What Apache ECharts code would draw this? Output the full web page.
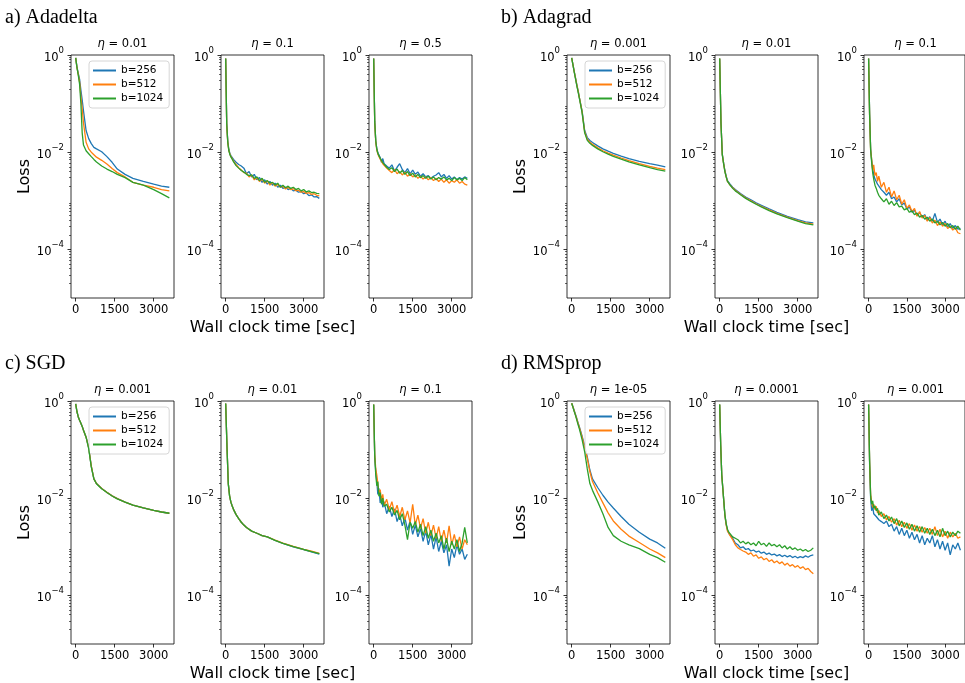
<!DOCTYPE html>
<html><head><meta charset="utf-8">
<script src="https://cdn.jsdelivr.net/npm/echarts@6/dist/echarts.min.js"></script>
<style>html,body{margin:0;padding:0;background:#fff}#c{width:965px;height:683px}</style>
</head><body><div id="c"></div>
<script>
// ---- time axes (seconds) ----
const tS = [0,50,100,150,200,250,300,400,500,600,700,800,1000,1200,1400,1600,1900,2200,2600,3000,3300,3600];
const tN = [0,40,80,120,160,200,250,300,350,400,500,600,700,800,900,1000,1100,1200,1300,1400,1500,1600,1700,1800,1900,2000,2100,2200,2300,2400,2500,2600,2700,2800,2900,3000,3100,3200,3300,3400,3500,3600];
const xTicks = [0,1500,3000];
const yMajorExp = [0,-2,-4];
const batchNames = ['b=256','b=512','b=1024'];
const panelTitles = ['a) Adadelta','b) Adagrad','c) SGD','d) RMSprop'];
const etaLabels = [['0.01','0.1','0.5'],['0.001','0.01','0.1'],['0.001','0.01','0.1'],['1e-05','0.0001','0.001']];

// ---- a) Adadelta ----
const adadelta_lr001_b256 = [0.87,0.56,0.42,0.32,0.19,0.12,0.071,0.028,0.019,0.015,0.0126,0.0117,0.0102,0.0081,0.0062,0.0045,0.0035,0.0029,0.0025,0.0022,0.002,0.0019];
const adadelta_lr001_b512 = [0.87,0.55,0.40,0.28,0.14,0.079,0.04,0.016,0.0117,0.01,0.0089,0.0079,0.0068,0.0057,0.0046,0.0038,0.0031,0.0024,0.0021,0.0019,0.0017,0.0016];
const adadelta_lr001_b1024 = [0.87,0.55,0.38,0.25,0.1,0.025,0.014,0.0107,0.0093,0.0081,0.0071,0.0063,0.0052,0.0045,0.004,0.0035,0.003,0.0024,0.0021,0.0017,0.0014,0.00115];
const adadelta_lr01_b256 = [0.85,0.04,0.017,0.0115,0.0095,0.0085,0.0078,0.0071,0.0066,0.0062,0.0056,0.0052,0.0047,0.0036,0.0040,0.0031,0.0035,0.0027,0.0030,0.0024,0.0027,0.0022,0.0025,0.0021,0.0023,0.0019,0.0021,0.0018,0.0019,0.0017,0.0018,0.0016,0.00165,0.0015,0.00155,0.0014,0.00145,0.00128,0.00133,0.0012,0.00122,0.00112];
const adadelta_lr01_b512 = [0.85,0.035,0.016,0.011,0.0092,0.0082,0.0074,0.0066,0.006,0.0055,0.0048,0.0043,0.0038,0.0037,0.0031,0.0034,0.0027,0.003,0.0025,0.0028,0.0023,0.0026,0.0021,0.0024,0.002,0.0022,0.0019,0.002,0.00175,0.0019,0.0017,0.00178,0.0016,0.00165,0.0015,0.00155,0.00142,0.00148,0.00135,0.0014,0.0013,0.00126];
const adadelta_lr01_b1024 = [0.85,0.038,0.016,0.0108,0.009,0.008,0.0072,0.0064,0.0059,0.0053,0.0047,0.0042,0.0039,0.0035,0.0033,0.0034,0.0029,0.0031,0.0026,0.0029,0.0024,0.0026,0.0023,0.0024,0.0021,0.0023,0.0019,0.0021,0.00185,0.002,0.0018,0.0019,0.0017,0.0018,0.0016,0.0017,0.00152,0.0016,0.00148,0.0015,0.00142,0.0014];
const adadelta_lr05_b256 = [0.85,0.045,0.017,0.012,0.0098,0.0088,0.0078,0.0062,0.0074,0.0058,0.0052,0.0047,0.0055,0.0041,0.0049,0.0058,0.0044,0.0038,0.0046,0.0036,0.0043,0.0035,0.0039,0.0032,0.0036,0.0031,0.0033,0.0029,0.0032,0.0034,0.0038,0.0031,0.0035,0.0029,0.0033,0.0028,0.0031,0.0027,0.003,0.0028,0.0031,0.0029];
const adadelta_lr05_b512 = [0.85,0.04,0.016,0.011,0.0092,0.0082,0.0072,0.0066,0.0058,0.0054,0.0047,0.0042,0.0038,0.0044,0.0036,0.004,0.0034,0.0039,0.0032,0.0036,0.0031,0.0034,0.0029,0.0032,0.0028,0.0031,0.0027,0.003,0.0026,0.0029,0.0025,0.0028,0.0024,0.0027,0.0023,0.0026,0.0024,0.0027,0.0023,0.0025,0.0022,0.0021];
const adadelta_lr05_b1024 = [0.85,0.042,0.017,0.0115,0.0095,0.0085,0.0075,0.0069,0.0061,0.0056,0.0049,0.0044,0.0048,0.004,0.0045,0.0037,0.0042,0.0035,0.004,0.0033,0.0037,0.0031,0.0035,0.003,0.0033,0.0029,0.0032,0.0028,0.0031,0.0027,0.003,0.0028,0.0031,0.0027,0.0029,0.0026,0.003,0.0027,0.0029,0.0026,0.003,0.0027];

// ---- b) Adagrad ----
const adagrad_lr0001_b256 = [0.87,0.63,0.45,0.33,0.24,0.18,0.13,0.071,0.028,0.02,0.0174,0.0158,0.0135,0.0117,0.0105,0.0095,0.0083,0.0074,0.0065,0.0058,0.0054,0.005];
const adagrad_lr0001_b512 = [0.87,0.63,0.45,0.33,0.24,0.18,0.13,0.068,0.026,0.0185,0.016,0.0145,0.0123,0.0107,0.0096,0.0087,0.0076,0.0067,0.0058,0.0051,0.0047,0.0044];
const adagrad_lr0001_b1024 = [0.87,0.62,0.44,0.32,0.23,0.17,0.125,0.065,0.025,0.0175,0.0152,0.0138,0.0117,0.0102,0.0091,0.0082,0.0072,0.0063,0.0055,0.0048,0.0044,0.0041];
const adagrad_lr001_b256 = [0.85,0.04,0.0091,0.006,0.0042,0.0032,0.0026,0.0022,0.0019,0.0017,0.00155,0.00141,0.0012,0.00105,0.00091,0.00081,0.00068,0.00058,0.00048,0.00041,0.00037,0.00035];
const adagrad_lr001_b512 = [0.85,0.04,0.009,0.0059,0.0041,0.0031,0.0025,0.0021,0.00185,0.00165,0.0015,0.00136,0.00115,0.001,0.00087,0.00077,0.00065,0.00055,0.00046,0.00039,0.00035,0.00033];
const adagrad_lr001_b1024 = [0.85,0.04,0.0089,0.0058,0.004,0.0031,0.0025,0.0021,0.0018,0.0016,0.00146,0.00133,0.00112,0.00097,0.00085,0.00075,0.00063,0.00054,0.00045,0.00038,0.00034,0.00032];
const adagrad_lr01_b256 = [0.85,0.06,0.012,0.0068,0.0045,0.0035,0.0028,0.0027,0.0022,0.0021,0.0017,0.0015,0.0013,0.0015,0.0011,0.0012,0.00095,0.0011,0.00082,0.0009,0.00068,0.00075,0.00058,0.00064,0.0005,0.00057,0.00046,0.00052,0.0004,0.00047,0.00038,0.00055,0.00036,0.00042,0.00032,0.00038,0.00029,0.00034,0.00027,0.00031,0.00026,0.00027];
const adagrad_lr01_b512 = [0.85,0.055,0.011,0.0072,0.0042,0.0055,0.0033,0.0038,0.0025,0.0032,0.0019,0.0024,0.0015,0.0019,0.0012,0.0016,0.00105,0.0013,0.00085,0.00105,0.0007,0.00082,0.0006,0.0007,0.00048,0.0006,0.00044,0.0005,0.00038,0.00045,0.00035,0.0004,0.00031,0.00037,0.0003,0.00034,0.00027,0.0003,0.00025,0.00028,0.00022,0.00021];
const adagrad_lr01_b1024 = [0.85,0.06,0.011,0.0062,0.0038,0.0028,0.0021,0.0018,0.0015,0.0013,0.0011,0.00095,0.0011,0.00085,0.00098,0.0008,0.00092,0.00075,0.00078,0.00065,0.0007,0.00058,0.00062,0.00052,0.00056,0.00046,0.0005,0.00042,0.00046,0.00038,0.00042,0.00035,0.00038,0.00032,0.00036,0.0003,0.00034,0.00028,0.00031,0.00026,0.0003,0.00025];

// ---- c) SGD ----
const sgd_lr0001_b256 = [0.87,0.6,0.47,0.4,0.35,0.3,0.25,0.18,0.11,0.045,0.025,0.02,0.0158,0.0132,0.0112,0.0098,0.0083,0.0072,0.0063,0.0056,0.0052,0.0049];
const sgd_lr0001_b512 = [0.87,0.6,0.47,0.4,0.35,0.3,0.25,0.18,0.11,0.046,0.025,0.02,0.0158,0.0132,0.0112,0.0098,0.0083,0.0072,0.0063,0.0056,0.0052,0.0049];
const sgd_lr0001_b1024 = [0.87,0.6,0.47,0.4,0.35,0.3,0.25,0.18,0.105,0.044,0.025,0.0198,0.0157,0.0131,0.0111,0.0097,0.0083,0.0072,0.0063,0.0056,0.0052,0.0049];
const sgd_lr001_b256 = [0.89,0.115,0.02,0.0112,0.0083,0.0069,0.0059,0.0046,0.0038,0.0032,0.0028,0.0025,0.0021,0.0019,0.0017,0.0016,0.00135,0.00117,0.001,0.00087,0.00079,0.00071];
const sgd_lr001_b512 = [0.89,0.115,0.02,0.0112,0.0083,0.0069,0.0059,0.0046,0.0038,0.0032,0.0028,0.0025,0.0021,0.0019,0.0017,0.0016,0.00137,0.00119,0.00102,0.00089,0.00081,0.00073];
const sgd_lr001_b1024 = [0.89,0.115,0.02,0.0112,0.0083,0.0069,0.0059,0.0046,0.0038,0.0032,0.0028,0.0025,0.0021,0.0019,0.0017,0.0016,0.00136,0.00118,0.00101,0.00088,0.0008,0.00072];
const sgd_lr01_b256 = [0.85,0.07,0.035,0.022,0.012,0.016,0.008,0.011,0.0065,0.0085,0.0048,0.0068,0.0042,0.006,0.0033,0.0046,0.0027,0.004,0.0022,0.0034,0.0018,0.0028,0.0016,0.0024,0.0013,0.0021,0.0011,0.0018,0.0009,0.0016,0.0008,0.0013,0.00075,0.0011,0.0004,0.0009,0.0006,0.0011,0.0007,0.0009,0.00055,0.0007];
const sgd_lr01_b512 = [0.85,0.08,0.04,0.03,0.02,0.013,0.015,0.009,0.012,0.007,0.0095,0.0058,0.0085,0.005,0.0072,0.0042,0.0065,0.0036,0.0055,0.0031,0.0075,0.0028,0.0045,0.0024,0.0038,0.0019,0.0032,0.0017,0.0028,0.0015,0.0026,0.0013,0.0022,0.0012,0.0027,0.0011,0.0018,0.001,0.0016,0.0009,0.0014,0.0011];
const sgd_lr01_b1024 = [0.85,0.075,0.03,0.018,0.022,0.011,0.013,0.0075,0.01,0.0068,0.0075,0.0052,0.0065,0.0045,0.0056,0.0036,0.0048,0.0028,0.0014,0.0032,0.0024,0.0033,0.002,0.0029,0.0017,0.0026,0.0015,0.0022,0.0013,0.0019,0.0012,0.0017,0.0009,0.0015,0.0008,0.0013,0.0009,0.0014,0.0008,0.0012,0.0025,0.0012];

// ---- d) RMSprop ----
const rms_lr1e5_b256 = [0.9,0.76,0.63,0.52,0.43,0.35,0.29,0.19,0.12,0.071,0.038,0.025,0.0166,0.0115,0.0083,0.0063,0.0042,0.0029,0.002,0.00144,0.0012,0.00093];
const rms_lr1e5_b512 = [0.9,0.75,0.62,0.51,0.42,0.34,0.28,0.18,0.11,0.066,0.035,0.022,0.0129,0.008,0.005,0.0034,0.0023,0.00166,0.00123,0.0009,0.00075,0.0006];
const rms_lr1e5_b1024 = [0.9,0.74,0.6,0.5,0.4,0.32,0.26,0.16,0.09,0.04,0.02,0.0145,0.0085,0.0048,0.0025,0.0017,0.0013,0.0011,0.00092,0.0007,0.0006,0.00048];
const rms_lr1e4_b256 = [0.85,0.12,0.03,0.016,0.0085,0.0045,0.0029,0.0022,0.0019,0.0018,0.0015,0.0012,0.0011,0.00095,0.001,0.00088,0.00092,0.00082,0.00086,0.00078,0.00082,0.00074,0.00078,0.0007,0.00074,0.00068,0.00071,0.00065,0.00069,0.00063,0.00067,0.00062,0.00066,0.0006,0.00064,0.00059,0.00063,0.0006,0.00065,0.00061,0.00066,0.00068];
const rms_lr1e4_b512 = [0.85,0.12,0.03,0.016,0.0085,0.0045,0.0028,0.0021,0.0019,0.0017,0.0014,0.0011,0.00095,0.00088,0.00082,0.00078,0.0007,0.00075,0.00064,0.00068,0.00058,0.00062,0.00054,0.00058,0.0005,0.00054,0.00047,0.00051,0.00045,0.00049,0.00042,0.00046,0.0004,0.00043,0.00038,0.00041,0.00036,0.00039,0.00034,0.00036,0.00031,0.00028];
const rms_lr1e4_b1024 = [0.85,0.12,0.03,0.016,0.0085,0.0046,0.003,0.0023,0.002,0.0019,0.0016,0.0015,0.0014,0.0012,0.0013,0.00115,0.00125,0.0011,0.0012,0.00105,0.0013,0.0011,0.00118,0.00102,0.0012,0.00105,0.00112,0.001,0.0011,0.00095,0.00105,0.0009,0.001,0.00088,0.00095,0.00085,0.0009,0.00082,0.00088,0.0008,0.00085,0.00095];
const rms_lr1e3_b256 = [0.85,0.05,0.01,0.0055,0.007,0.0048,0.0052,0.0042,0.0046,0.0036,0.0033,0.003,0.0034,0.0026,0.0029,0.0021,0.0026,0.0018,0.0024,0.0017,0.0022,0.0015,0.002,0.0014,0.0018,0.0012,0.0017,0.0011,0.0015,0.0012,0.0017,0.001,0.0014,0.0009,0.0013,0.00085,0.0012,0.00068,0.0011,0.0009,0.0012,0.00085];
const rms_lr1e3_b512 = [0.85,0.055,0.012,0.0085,0.0065,0.0075,0.0058,0.0068,0.005,0.0056,0.0042,0.0048,0.0036,0.0042,0.0032,0.0038,0.0028,0.0035,0.0026,0.0032,0.0024,0.003,0.0022,0.0028,0.0021,0.0026,0.002,0.0025,0.0019,0.0024,0.0018,0.0026,0.0017,0.0023,0.0016,0.0021,0.0015,0.002,0.0016,0.0019,0.0015,0.0016];
const rms_lr1e3_b1024 = [0.85,0.06,0.011,0.0075,0.0088,0.0062,0.007,0.0055,0.0062,0.0045,0.0052,0.0038,0.0045,0.0034,0.0041,0.003,0.0038,0.0027,0.0034,0.0025,0.0031,0.0023,0.0029,0.0021,0.0027,0.002,0.0026,0.0019,0.0024,0.0018,0.0023,0.0017,0.0022,0.0016,0.0024,0.0017,0.0021,0.0016,0.002,0.0017,0.0021,0.0019];

const panels = [
  [ {t:tS, ys:[adadelta_lr001_b256,adadelta_lr001_b512,adadelta_lr001_b1024]},
    {t:tN, ys:[adadelta_lr01_b256,adadelta_lr01_b512,adadelta_lr01_b1024]},
    {t:tN, ys:[adadelta_lr05_b256,adadelta_lr05_b512,adadelta_lr05_b1024]} ],
  [ {t:tS, ys:[adagrad_lr0001_b256,adagrad_lr0001_b512,adagrad_lr0001_b1024]},
    {t:tS, ys:[adagrad_lr001_b256,adagrad_lr001_b512,adagrad_lr001_b1024]},
    {t:tN, ys:[adagrad_lr01_b256,adagrad_lr01_b512,adagrad_lr01_b1024]} ],
  [ {t:tS, ys:[sgd_lr0001_b256,sgd_lr0001_b512,sgd_lr0001_b1024]},
    {t:tS, ys:[sgd_lr001_b256,sgd_lr001_b512,sgd_lr001_b1024]},
    {t:tN, ys:[sgd_lr01_b256,sgd_lr01_b512,sgd_lr01_b1024]} ],
  [ {t:tS, ys:[rms_lr1e5_b256,rms_lr1e5_b512,rms_lr1e5_b1024]},
    {t:tN, ys:[rms_lr1e4_b256,rms_lr1e4_b512,rms_lr1e4_b1024]},
    {t:tN, ys:[rms_lr1e3_b256,rms_lr1e3_b512,rms_lr1e3_b1024]} ]
];

// ---- layout / style ----
const colors = ['#1f77b4','#ff7f0e','#2ca02c'];
const colLefts = [[71,221,369],[567,715,864]];
const rowTops = [55,401];
const GW = 103, GH = 243;
const FONT = 'DejaVu Sans';
const yMinorExp = [];
for (let k = -5; k < 0; k++) for (let m = 2; m <= 9; m++) yMinorExp.push(k + Math.log10(m));

const grids = [], xAxes = [], yAxes = [], series = [], titles = [], legends = [];
panels.forEach((subs, pi) => {
  const row = Math.floor(pi / 2), col = pi % 2;
  titles.push({text: panelTitles[pi], left: col ? 501 : 5, top: row ? 354 : 8, padding: 0,
    textStyle: {fontFamily: 'Liberation Serif', fontSize: 20, fontWeight: 'normal', color: '#000'}});
  subs.forEach((s, si) => {
    const gi = grids.length;
    const left = colLefts[col][si], top = rowTops[row];
    grids.push({left: left, top: top, width: GW, height: GH, show: true, borderColor: '#000', borderWidth: 0.8, backgroundColor: 'transparent'});
    titles.push({text: '{i|η} = ' + etaLabels[pi][si], left: left + GW / 2, top: top - 17, textAlign: 'center', padding: 0,
      textStyle: {fontSize: 11.5, fontWeight: 'normal', color: '#000', fontFamily: FONT,
        rich: {i: {fontStyle: 'italic', fontSize: 11.5, fontFamily: FONT, color: '#000'}}}});
    xAxes.push({type: 'value', gridIndex: gi, min: -180, max: 3780,
      axisLine: {show: false, onZero: false},
      axisTick: {show: true, customValues: xTicks, length: 3.5, lineStyle: {color: '#000', width: 0.8}},
      axisLabel: {customValues: xTicks, fontSize: 11.5, color: '#000', margin: 6, fontFamily: FONT,
        formatter: v => String(v)},
      splitLine: {show: false},
      name: si === 1 ? 'Wall clock time [sec]' : '', nameLocation: 'middle', nameGap: 22,
      nameTextStyle: {fontSize: 16, color: '#000', fontFamily: FONT}});
    const yi = yAxes.length;
    yAxes.push({type: 'log', logBase: 10, gridIndex: gi, min: 1e-5, max: 1, position: 'left',
      axisLine: {show: false, onZero: false}, axisTick: {show: false}, axisLabel: {show: false},
      splitLine: {show: false}});
    yAxes.push({type: 'value', gridIndex: gi, min: -5, max: 0, position: 'left',
      axisLine: {show: false, onZero: false},
      axisTick: {show: true, customValues: yMajorExp, length: 3.5, lineStyle: {color: '#000', width: 0.8}},
      axisLabel: {customValues: yMajorExp, margin: 7, color: '#000',
        formatter: v => '{b|10}{s|' + (v === 0 ? '0' : '\u2212' + Math.abs(v)) + '}',
        rich: {b: {fontSize: 11.5, fontFamily: FONT, color: '#000', lineHeight: 18, verticalAlign: 'bottom'},
               s: {fontSize: 8.5, fontFamily: FONT, color: '#000', lineHeight: 18, verticalAlign: 'top'}}},
      splitLine: {show: false},
      name: si === 0 ? 'Loss' : '', nameLocation: 'middle', nameGap: 37,
      nameTextStyle: {fontSize: 16, color: '#000', fontFamily: FONT}});
    yAxes.push({type: 'value', gridIndex: gi, min: -5, max: 0, position: 'left',
      axisLine: {show: false, onZero: false},
      axisTick: {show: true, customValues: yMinorExp, length: 2, lineStyle: {color: '#000', width: 0.6}},
      axisLabel: {show: false}, splitLine: {show: false}});
    s.ys.forEach((ys, bi) => {
      series.push({type: 'line', name: batchNames[bi], xAxisIndex: gi, yAxisIndex: yi,
        data: s.t.map((t, k) => [t, ys[k]]), showSymbol: false, symbol: 'none',
        lineStyle: {width: 1.3, color: colors[bi]}, itemStyle: {color: colors[bi]},
        color: colors[bi], animation: false, z: 2 + bi});
    });
  });
  legends.push({data: batchNames, orient: 'vertical', left: colLefts[col][0] + 18, top: rowTops[row] + 6,
    icon: 'rect', itemWidth: 23, itemHeight: 2, itemGap: 3, padding: [4, 6, 4, 4],
    borderColor: '#ccc', borderWidth: 0.8, borderRadius: 3, backgroundColor: 'rgba(255,255,255,0.85)',
    selectedMode: false, textStyle: {fontSize: 10.5, color: '#000', fontFamily: FONT}});
});

const chart = echarts.init(document.getElementById('c'), null, {renderer: 'canvas'});
chart.setOption({
  animation: false,
  backgroundColor: '#fff',
  textStyle: {fontFamily: FONT},
  title: titles, legend: legends, grid: grids, xAxis: xAxes, yAxis: yAxes, series: series
});
</script></body></html>
